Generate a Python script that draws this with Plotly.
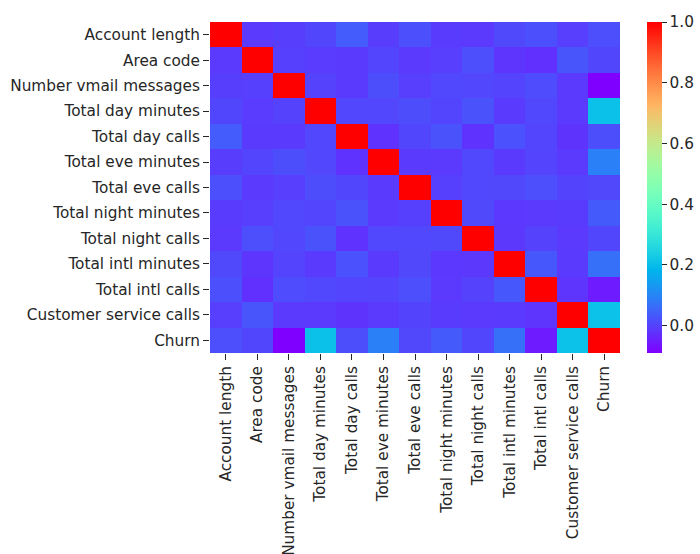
import numpy as np
import plotly.graph_objects as go

labels = ["Account length", "Area code", "Number vmail messages", "Total day minutes",
          "Total day calls", "Total eve minutes", "Total eve calls", "Total night minutes",
          "Total night calls", "Total intl minutes", "Total intl calls",
          "Customer service calls", "Churn"]

corr = [
    [1.000, -0.012, -0.005, 0.006, 0.038, -0.007, 0.019, -0.009, -0.013, 0.010, 0.021, -0.004, 0.017],
    [-0.012, 1.000, -0.002, -0.008, -0.010, 0.004, -0.012, -0.006, 0.017, -0.018, -0.025, 0.028, 0.006],
    [-0.005, -0.002, 1.000, 0.001, -0.010, 0.018, -0.006, 0.008, 0.007, 0.003, 0.014, -0.013, -0.090],
    [0.006, -0.008, 0.001, 1.000, 0.007, 0.007, 0.016, 0.004, 0.023, -0.010, 0.008, -0.013, 0.205],
    [0.038, -0.010, -0.010, 0.007, 1.000, -0.021, 0.006, 0.023, -0.020, 0.022, 0.005, -0.019, 0.018],
    [-0.007, 0.004, 0.018, 0.007, -0.021, 1.000, -0.011, -0.013, 0.008, -0.011, 0.003, -0.013, 0.093],
    [0.019, -0.012, -0.006, 0.016, 0.006, -0.011, 1.000, -0.002, 0.008, 0.009, 0.017, 0.002, 0.009],
    [-0.009, -0.006, 0.008, 0.004, 0.023, -0.013, -0.002, 1.000, 0.011, -0.015, -0.012, -0.009, 0.035],
    [-0.013, 0.017, 0.007, 0.023, -0.020, 0.008, 0.008, 0.011, 1.000, -0.014, 0.000, -0.013, 0.006],
    [0.010, -0.018, 0.003, -0.010, 0.022, -0.011, 0.009, -0.015, -0.014, 1.000, 0.032, -0.010, 0.068],
    [0.021, -0.025, 0.014, 0.008, 0.005, 0.003, 0.017, -0.012, 0.000, 0.032, 1.000, -0.018, -0.053],
    [-0.004, 0.028, -0.013, -0.013, -0.019, -0.013, 0.002, -0.009, -0.013, -0.010, -0.018, 1.000, 0.209],
    [0.017, 0.006, -0.090, 0.205, 0.018, 0.093, 0.009, 0.035, 0.006, 0.068, -0.053, 0.209, 1.000],
]

cbar_ticks = [0.0, 0.2, 0.4, 0.6, 0.8, 1.0]

# matplotlib "rainbow" colormap
def rainbow(t):
    r = min(1.0, abs(2 * t - 0.5))
    g = np.sin(np.pi * t)
    b = np.cos(np.pi * t / 2)
    return "rgb(%d,%d,%d)" % (round(r * 255), round(g * 255), round(b * 255))

stops = np.linspace(0, 1, 41)
colorscale = [[float(s), rainbow(s)] for s in stops]

zmin = min(min(r) for r in corr)
zmax = max(max(r) for r in corr)

text_color = "#262626"
font = dict(family="DejaVu Sans", size=15.3, color=text_color)

fig = go.Figure(go.Heatmap(
    z=corr, x=labels, y=labels,
    colorscale=colorscale, zmin=zmin, zmax=zmax,
    colorbar=dict(
        x=1.065, xanchor="left", y=0.5, yanchor="middle",
        len=1.0, lenmode="fraction", thickness=15, outlinewidth=0,
        xpad=0, ypad=0,
        tickvals=cbar_ticks, ticktext=["%.1f" % v for v in cbar_ticks],
        ticks="outside", ticklen=5, tickcolor=text_color, tickfont=font,
    ),
))

fig.update_layout(
    width=700, height=554,
    margin=dict(l=210, r=80, t=22, b=201, autoexpand=False),
    paper_bgcolor="white", plot_bgcolor="white",
    font=font,
)
fig.update_xaxes(tickangle=-90, ticks="outside", ticklen=6, tickcolor=text_color,
                 showgrid=False, zeroline=False, showline=False, tickfont=font)
fig.update_yaxes(autorange="reversed", ticks="outside", ticklen=6, tickcolor=text_color,
                 showgrid=False, zeroline=False, showline=False, tickfont=font)

fig.write_html("out.html", config={"displayModeBar": False},
               post_script="document.body.style.margin='0';document.body.style.overflow='hidden';")
